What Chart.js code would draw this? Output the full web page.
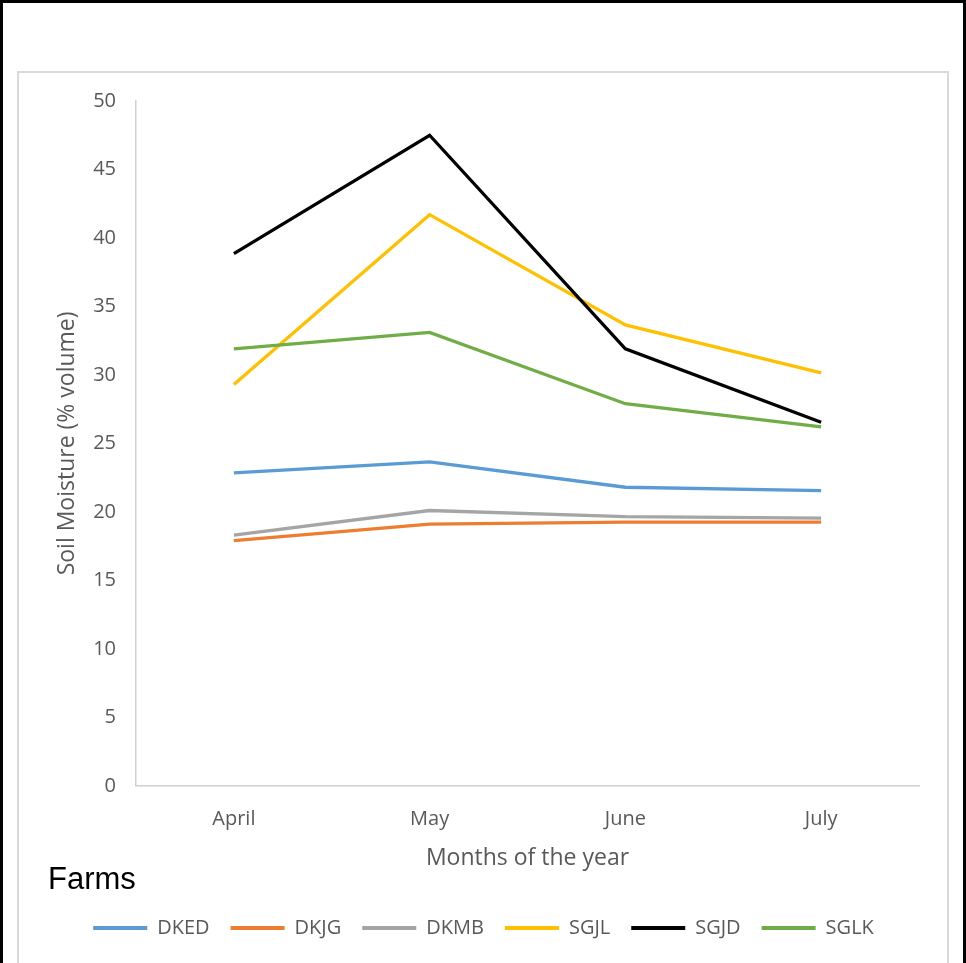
<!DOCTYPE html>
<html>
<head>
<meta charset="utf-8">
<script src="https://cdn.jsdelivr.net/npm/chart.js@4/dist/chart.umd.min.js"></script>
<style>
  html, body { margin: 0; padding: 0; background: #fff; }
  #frame { position: absolute; left: 0; top: 0; width: 966px; height: 963px; box-sizing: border-box;
           border-top: 3px solid #000; border-left: 3px solid #000; border-right: 3px solid #000; overflow: hidden; }
  #box { position: absolute; left: 14px; top: 68px; width: 932px; height: 1000px; box-sizing: border-box;
         border: 2px solid #d9d9d9; }
  #wrap { position: absolute; left: 0; top: 0; width: 928px; height: 900px; }
</style>
</head>
<body>
<div id="frame"><div id="box"><div id="wrap"><canvas id="c" width="928" height="900"></canvas></div></div></div>
<script>
const months = ['April', 'May', 'June', 'July'];
const seriesNames = ['DKED', 'DKJG', 'DKMB', 'SGJL', 'SGJD', 'SGLK'];
const DKED = [22.85, 23.65, 21.8, 21.55];
const DKJG = [17.9, 19.1, 19.25, 19.25];
const DKMB = [18.3, 20.1, 19.65, 19.55];
const SGJL = [29.3, 41.7, 33.65, 30.15];
const SGJD = [38.85, 47.5, 31.9, 26.55];
const SGLK = [31.9, 33.1, 27.9, 26.2];
const yTicks = [0, 5, 10, 15, 20, 25, 30, 35, 40, 45, 50];

const seriesValues = [DKED, DKJG, DKMB, SGJL, SGJD, SGLK];
const colors = ['#5B9BD5', '#ED7D31', '#A5A5A5', '#FFC000', '#000000', '#70AD47'];

const tickFont = { family: '"Open Sans", sans-serif', size: 20 };
const titleFont = { family: '"Open Sans", sans-serif', size: 23 };

new Chart(document.getElementById('c'), {
  type: 'line',
  data: {
    labels: months,
    datasets: seriesNames.map((n, i) => ({
      label: n,
      data: seriesValues[i],
      borderColor: colors[i],
      backgroundColor: colors[i],
      borderWidth: 3.3,
      pointRadius: 0,
      tension: 0,
      fill: false,
      order: seriesNames.length - i
    }))
  },
  options: {
    responsive: false,
    animation: false,
    events: [],
    layout: { padding: { left: 29, right: 28, top: 28, bottom: 25 } },
    scales: {
      x: {
        type: 'category',
        offset: true,
        grid: { display: false, drawTicks: false },
        border: { display: true, color: '#d0d0d0', width: 1.5 },
        ticks: { color: '#595959', font: tickFont, padding: 21, maxRotation: 0 },
        title: { display: true, text: 'Months of the year', color: '#595959', font: titleFont, padding: { top: 0, bottom: -3 } },
        afterFit: s => { s.height = 83; }
      },
      y: {
        min: 0, max: 50,
        afterBuildTicks: s => { s.ticks = yTicks.map(v => ({ value: v })); },
        grid: { display: false, drawTicks: false },
        border: { display: true, color: '#d0d0d0', width: 1.5 },
        ticks: { color: '#595959', font: tickFont, padding: 20 },
        title: { display: true, text: 'Soil Moisture (% volume)', color: '#595959', font: titleFont, padding: { top: 6, bottom: 0 } },
        afterFit: s => { s.width = 88; s.paddingTop = 0; s.paddingBottom = 0; }
      }
    },
    plugins: {
      tooltip: { enabled: false },
      title: {
        display: true,
        text: 'Farms',
        position: 'bottom',
        align: 'start',
        weight: 500,
        color: '#000000',
        font: { family: '"Liberation Sans", Arial, sans-serif', size: 31, weight: 'normal' },
        padding: { top: -7, bottom: -2 }
      },
      legend: {
        display: true,
        position: 'bottom',
        align: 'center',
        labels: {
          color: '#595959',
          font: { family: '"Open Sans", sans-serif', size: 20 },
          boxWidth: 54,
          boxHeight: 4,
          padding: 21,
          sort: (a, b) => a.datasetIndex - b.datasetIndex,
          generateLabels: chart => {
            const items = Chart.defaults.plugins.legend.labels.generateLabels(chart);
            items.forEach(it => { it.lineWidth = 0; it.fillStyle = it.strokeStyle; });
            return items;
          }
        }
      }
    }
  }
});
</script>
</body>
</html>
